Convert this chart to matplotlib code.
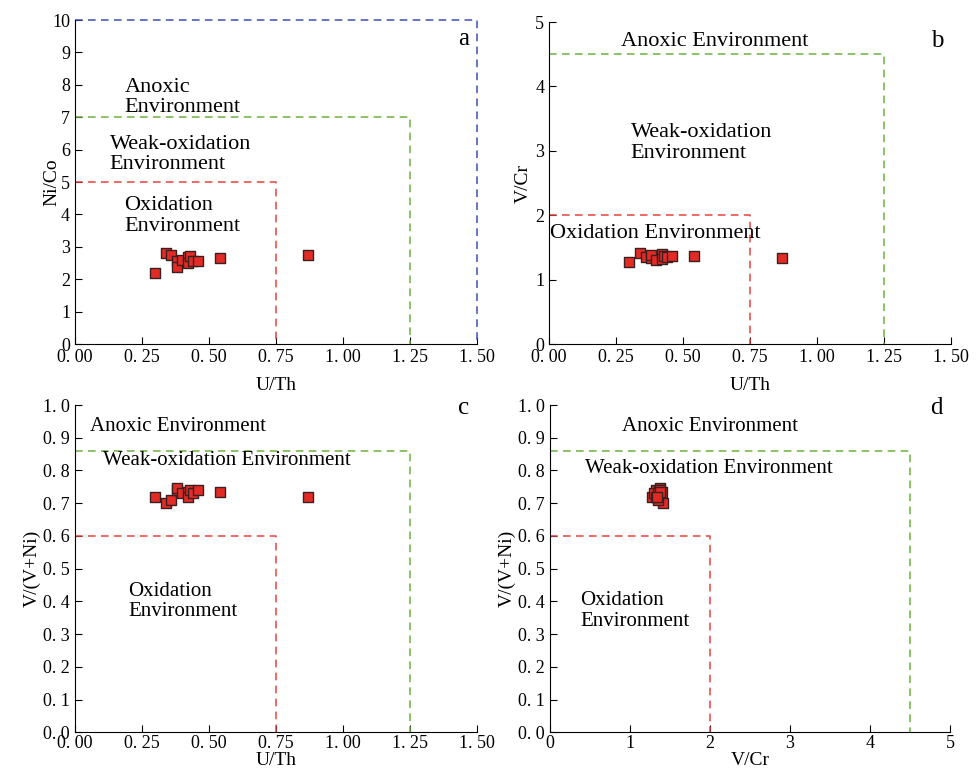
import matplotlib
matplotlib.use("Agg")
import matplotlib.pyplot as plt
from matplotlib.ticker import FuncFormatter, MultipleLocator

plt.rcParams['font.family'] = ['Liberation Serif', 'DejaVu Serif']

# datos de las muestras
u_th = [0.30, 0.34, 0.36, 0.38, 0.38, 0.40, 0.42, 0.42, 0.43, 0.44, 0.46, 0.54, 0.87]
ni_co = [2.20, 2.82, 2.75, 2.55, 2.38, 2.58, 2.70, 2.50, 2.72, 2.55, 2.55, 2.65, 2.75]
v_cr = [1.27, 1.41, 1.35, 1.33, 1.38, 1.30, 1.40, 1.32, 1.36, 1.35, 1.37, 1.37, 1.34]
v_vni = [0.72, 0.70, 0.71, 0.74, 0.745, 0.73, 0.735, 0.72, 0.74, 0.73, 0.74, 0.735, 0.72]

red = '#e8413a'
green = '#6ab23e'
blue = '#3b4fb5'

fig = plt.figure(figsize=(9.76, 7.7), dpi=100)
ax_a = fig.add_axes([0.0768, 0.5532, 0.412, 0.4208])
ax_b = fig.add_axes([0.5625, 0.5532, 0.412, 0.4182])
ax_c = fig.add_axes([0.0768, 0.049, 0.412, 0.425])
ax_d = fig.add_axes([0.5635, 0.049, 0.41, 0.425])

def fmt(dec):
    return FuncFormatter(lambda v, p: f"{v:.{dec}f}".replace('.', '. '))

def base(ax, xlim, ylim, xlabel, ylabel, xpad=8, ypad=2):
    ax.set_xlim(*xlim)
    ax.set_ylim(*ylim)
    for s in ['top', 'right']:
        ax.spines[s].set_visible(False)
    ax.tick_params(direction='in', length=5, labelsize=13)
    ax.set_xlabel(xlabel, fontsize=14, labelpad=xpad)
    ax.set_ylabel(ylabel, fontsize=14, labelpad=ypad)

def box(ax, x, y, color):
    ax.plot([0, x, x], [y, y, 0], ls=(0, (5, 3.5)), color=color, lw=1.1, clip_on=False)

def puntos(ax, x, y):
    ax.scatter(x, y, marker='s', s=55, color='#e32b25', edgecolors='#3a2020',
               linewidths=1.0, zorder=5, clip_on=False)

tfs_top = 16
tfs = 15

# panel a
base(ax_a, (0, 1.5), (0, 10), 'U/Th', 'Ni/Co', ypad=-6)
ax_a.xaxis.set_major_locator(MultipleLocator(0.25))
ax_a.yaxis.set_major_locator(MultipleLocator(1))
ax_a.xaxis.set_major_formatter(fmt(2))
box(ax_a, 0.75, 5, red)
box(ax_a, 1.25, 7, green)
box(ax_a, 1.5, 10, blue)
puntos(ax_a, u_th, ni_co)
ax_a.text(0.185, 7.6, 'Anoxic\nEnvironment', fontsize=tfs_top, va='center', linespacing=1.1)
ax_a.text(0.13, 5.85, 'Weak-oxidation\nEnvironment', fontsize=tfs_top, va='center', linespacing=1.1)
ax_a.text(0.185, 3.95, 'Oxidation\nEnvironment', fontsize=tfs_top, va='center', linespacing=1.1)
ax_a.text(0.98, 0.94, 'a', transform=ax_a.transAxes, fontsize=18, ha='right', va='center')

# panel b
base(ax_b, (0, 1.5), (0, 5), 'U/Th', 'V/Cr')
ax_b.xaxis.set_major_locator(MultipleLocator(0.25))
ax_b.yaxis.set_major_locator(MultipleLocator(1))
ax_b.xaxis.set_major_formatter(fmt(2))
box(ax_b, 0.75, 2, red)
box(ax_b, 1.25, 4.5, green)
puntos(ax_b, u_th, v_cr)
ax_b.text(0.27, 4.69, 'Anoxic Environment', fontsize=tfs_top, va='center')
ax_b.text(0.305, 3.12, 'Weak-oxidation\nEnvironment', fontsize=tfs_top, va='center', linespacing=1.1)
ax_b.text(0.003, 1.72, 'Oxidation Environment', fontsize=tfs_top, va='center')
ax_b.text(0.98, 0.94, 'b', transform=ax_b.transAxes, fontsize=18, ha='right', va='center')

# panel c
base(ax_c, (0, 1.5), (0, 1.0), 'U/Th', 'V/(V+Ni)', xpad=0)
ax_c.tick_params(axis='x', pad=2)
ax_c.xaxis.set_major_locator(MultipleLocator(0.25))
ax_c.yaxis.set_major_locator(MultipleLocator(0.1))
ax_c.xaxis.set_major_formatter(fmt(2))
ax_c.yaxis.set_major_formatter(fmt(1))
box(ax_c, 0.75, 0.6, red)
box(ax_c, 1.25, 0.86, green)
puntos(ax_c, u_th, v_vni)
ax_c.text(0.056, 0.935, 'Anoxic Environment', fontsize=tfs, va='center')
ax_c.text(0.104, 0.83, 'Weak-oxidation Environment', fontsize=tfs, va='center')
ax_c.text(0.2, 0.40, 'Oxidation\nEnvironment', fontsize=tfs, va='center', linespacing=1.1)
ax_c.text(0.98, 0.99, 'c', transform=ax_c.transAxes, fontsize=18, ha='right', va='center')

# panel d
base(ax_d, (0, 5), (0, 1.0), 'V/Cr', 'V/(V+Ni)', xpad=0)
ax_d.tick_params(axis='x', pad=2)
ax_d.xaxis.set_major_locator(MultipleLocator(1))
ax_d.yaxis.set_major_locator(MultipleLocator(0.1))
ax_d.yaxis.set_major_formatter(fmt(1))
box(ax_d, 2, 0.6, red)
box(ax_d, 4.5, 0.86, green)
puntos(ax_d, v_cr, v_vni)
ax_d.text(0.9, 0.935, 'Anoxic Environment', fontsize=tfs, va='center')
ax_d.text(0.44, 0.805, 'Weak-oxidation Environment', fontsize=tfs, va='center')
ax_d.text(0.375, 0.37, 'Oxidation\nEnvironment', fontsize=tfs, va='center', linespacing=1.1)
ax_d.text(0.98, 0.99, 'd', transform=ax_d.transAxes, fontsize=18, ha='right', va='center')

fig.savefig('out.png', dpi=100)
